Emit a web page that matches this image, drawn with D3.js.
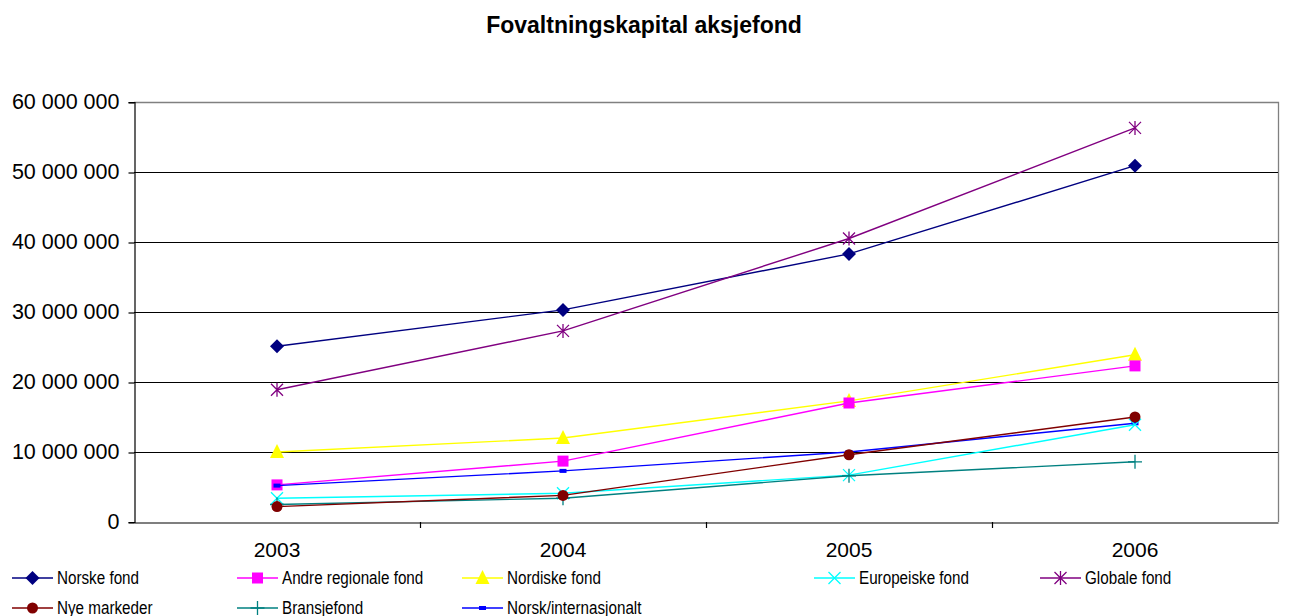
<!DOCTYPE html>
<html>
<head>
<meta charset="utf-8">
<script src="https://cdn.jsdelivr.net/npm/d3@7"></script>
<style>
  html, body { margin: 0; padding: 0; background: #fff; }
  svg { display: block; font-family: "Liberation Sans", Arial, sans-serif; }
</style>
</head>
<body>
<svg id="chart" width="1300" height="616"></svg>
<script>
// Fund capital by fund category, 2003–2006
const years = ["2003", "2004", "2005", "2006"];
const yTicks = [0, 10000000, 20000000, 30000000, 40000000, 50000000, 60000000];

const norskeFond         = [25100000, 30300000, 38300000, 50900000];
const andreRegionaleFond = [5300000, 8700000, 17000000, 22300000];
const nordiskeFond       = [10000000, 12000000, 17300000, 23900000];
const europeiskeFond     = [3400000, 4100000, 6700000, 13900000];
const globaleFond        = [18900000, 27300000, 40500000, 56300000];
const nyeMarkeder        = [2200000, 3800000, 9600000, 15000000];
const bransjefond        = [2500000, 3400000, 6600000, 8600000];
const norskInternasjonalt = [5200000, 7300000, 10000000, 14100000];

const series = [
  { name: "Norske fond", values: norskeFond, color: "#000080", marker: "diamond" },
  { name: "Andre regionale fond", values: andreRegionaleFond, color: "#ff00ff", marker: "square" },
  { name: "Nordiske fond", values: nordiskeFond, color: "#ffff00", marker: "triangle" },
  { name: "Europeiske fond", values: europeiskeFond, color: "#00ffff", marker: "cross" },
  { name: "Globale fond", values: globaleFond, color: "#800080", marker: "asterisk" },
  { name: "Nye markeder", values: nyeMarkeder, color: "#800000", marker: "circle" },
  { name: "Bransjefond", values: bransjefond, color: "#008080", marker: "plus" },
  { name: "Norsk/internasjonalt", values: norskInternasjonalt, color: "#0000ff", marker: "dash" }
];
// Draw order: later series on top
const drawOrder = [0, 4, 2, 1, 7, 3, 6, 5];

const svg = d3.select("#chart");
const plot = { left: 134, right: 1278, top: 102, bottom: 522 };

const x = d3.scaleBand().domain(years).range([plot.left, plot.right]);
const y = d3.scaleLinear().domain([0, 60000000]).range([plot.bottom, plot.top]);
const fmt = v => d3.format(",")(v).replace(/,/g, " ");

// Title
svg.append("text")
  .attr("x", 644).attr("y", 33)
  .attr("text-anchor", "middle")
  .attr("font-size", 23).attr("font-weight", "bold")
  .text("Fovaltningskapital aksjefond");

// Plot frame (top and right in grey)
svg.append("path")
  .attr("d", `M${plot.left},${plot.top + 0.5}H${plot.right + 0.5}V${plot.bottom}`)
  .attr("fill", "none").attr("stroke", "#808080").attr("stroke-width", 1.3);

// Horizontal gridlines
svg.append("g").selectAll("line")
  .data(yTicks.filter(t => t > 0 && t < 60000000))
  .join("line")
  .attr("x1", plot.left).attr("x2", plot.right)
  .attr("y1", d => y(d) + 0.5).attr("y2", d => y(d) + 0.5)
  .attr("stroke", "#000").attr("stroke-width", 1.2);

// Y axis
const yAxis = svg.append("g")
  .attr("transform", `translate(${plot.left + 0.5},0)`)
  .call(d3.axisLeft(y).tickValues(yTicks).tickFormat(fmt).tickSize(6).tickPadding(9));
yAxis.select(".domain").attr("stroke", "#000").attr("stroke-width", 1.2);
yAxis.selectAll(".tick line").attr("stroke", "#000").attr("stroke-width", 1.2)
  .attr("transform", "translate(0,0.5)");
yAxis.selectAll(".tick text").attr("font-size", 21.5).attr("fill", "#000")
  .attr("font-family", "Liberation Sans, Arial, sans-serif");

// X axis with ticks at category boundaries
const xAxis = svg.append("g")
  .attr("transform", `translate(0,${plot.bottom + 0.5})`)
  .call(d3.axisBottom(x).tickSize(0).tickPadding(20));
xAxis.select(".domain").attr("stroke", "#000").attr("stroke-width", 1.2);
xAxis.selectAll(".tick text").attr("font-size", 21).attr("fill", "#000")
  .attr("font-family", "Liberation Sans, Arial, sans-serif");
svg.append("g").selectAll("line")
  .data(years.slice(1))
  .join("line")
  .attr("x1", d => Math.round(x(d)) + 0.5).attr("x2", d => Math.round(x(d)) + 0.5)
  .attr("y1", plot.bottom).attr("y2", plot.bottom + 6)
  .attr("stroke", "#000").attr("stroke-width", 1.2);

// Marker drawing
function drawMarker(g, type, color) {
  switch (type) {
    case "diamond":
      g.append("path").attr("d", "M0,-7L7,0L0,7L-7,0Z").attr("fill", color);
      break;
    case "square":
      g.append("rect").attr("x", -5.5).attr("y", -5.5).attr("width", 11).attr("height", 11).attr("fill", color);
      break;
    case "triangle":
      g.append("path").attr("d", "M0,-8L7,6L-7,6Z").attr("fill", color);
      break;
    case "circle":
      g.append("circle").attr("r", 5.5).attr("fill", color);
      break;
    case "cross":
      g.append("path").attr("d", "M-6,-6L6,6M-6,6L6,-6").attr("stroke", color).attr("stroke-width", 1.3);
      break;
    case "asterisk":
      g.append("path").attr("d", "M-6,-6L6,6M-6,6L6,-6M0,-7V7").attr("stroke", color).attr("stroke-width", 1.3);
      break;
    case "plus":
      g.append("path").attr("d", "M-7,0H7M0,-7V7").attr("stroke", color).attr("stroke-width", 1.3);
      break;
    case "dash":
      g.append("rect").attr("x", -3.5).attr("y", -2).attr("width", 7).attr("height", 4).attr("fill", color);
      break;
  }
}

const line = d3.line()
  .x((d, i) => x(years[i]) + x.bandwidth() / 2)
  .y(d => y(d));

const seriesG = svg.append("g");
drawOrder.forEach(idx => {
  const s = series[idx];
  const g = seriesG.append("g");
  g.append("path")
    .attr("d", line(s.values))
    .attr("fill", "none")
    .attr("stroke", s.color)
    .attr("stroke-width", 1.4);
  s.values.forEach((v, i) => {
    const m = g.append("g")
      .attr("transform", `translate(${x(years[i]) + x.bandwidth() / 2},${y(v)})`);
    drawMarker(m, s.marker, s.color);
  });
});

// Legend: two rows, five columns (third column is wider)
const legendCols = [12, 237, 462, 814, 1040];
const legend = svg.append("g");
series.forEach((s, i) => {
  const col = i % 5, row = Math.floor(i / 5);
  const lx = legendCols[col], ly = 578 + row * 30;
  const g = legend.append("g").attr("transform", `translate(${lx},${ly})`);
  g.append("line").attr("x1", 0).attr("x2", 41).attr("y1", 0).attr("y2", 0)
    .attr("stroke", s.color).attr("stroke-width", 1.4);
  const m = g.append("g").attr("transform", "translate(20.5,0)");
  drawMarker(m, s.marker, s.color);
  g.append("text")
    .attr("transform", "translate(45,6) scale(0.87,1)")
    .attr("font-size", 17.5).attr("fill", "#000")
    .text(s.name);
});
</script>
</body>
</html>
